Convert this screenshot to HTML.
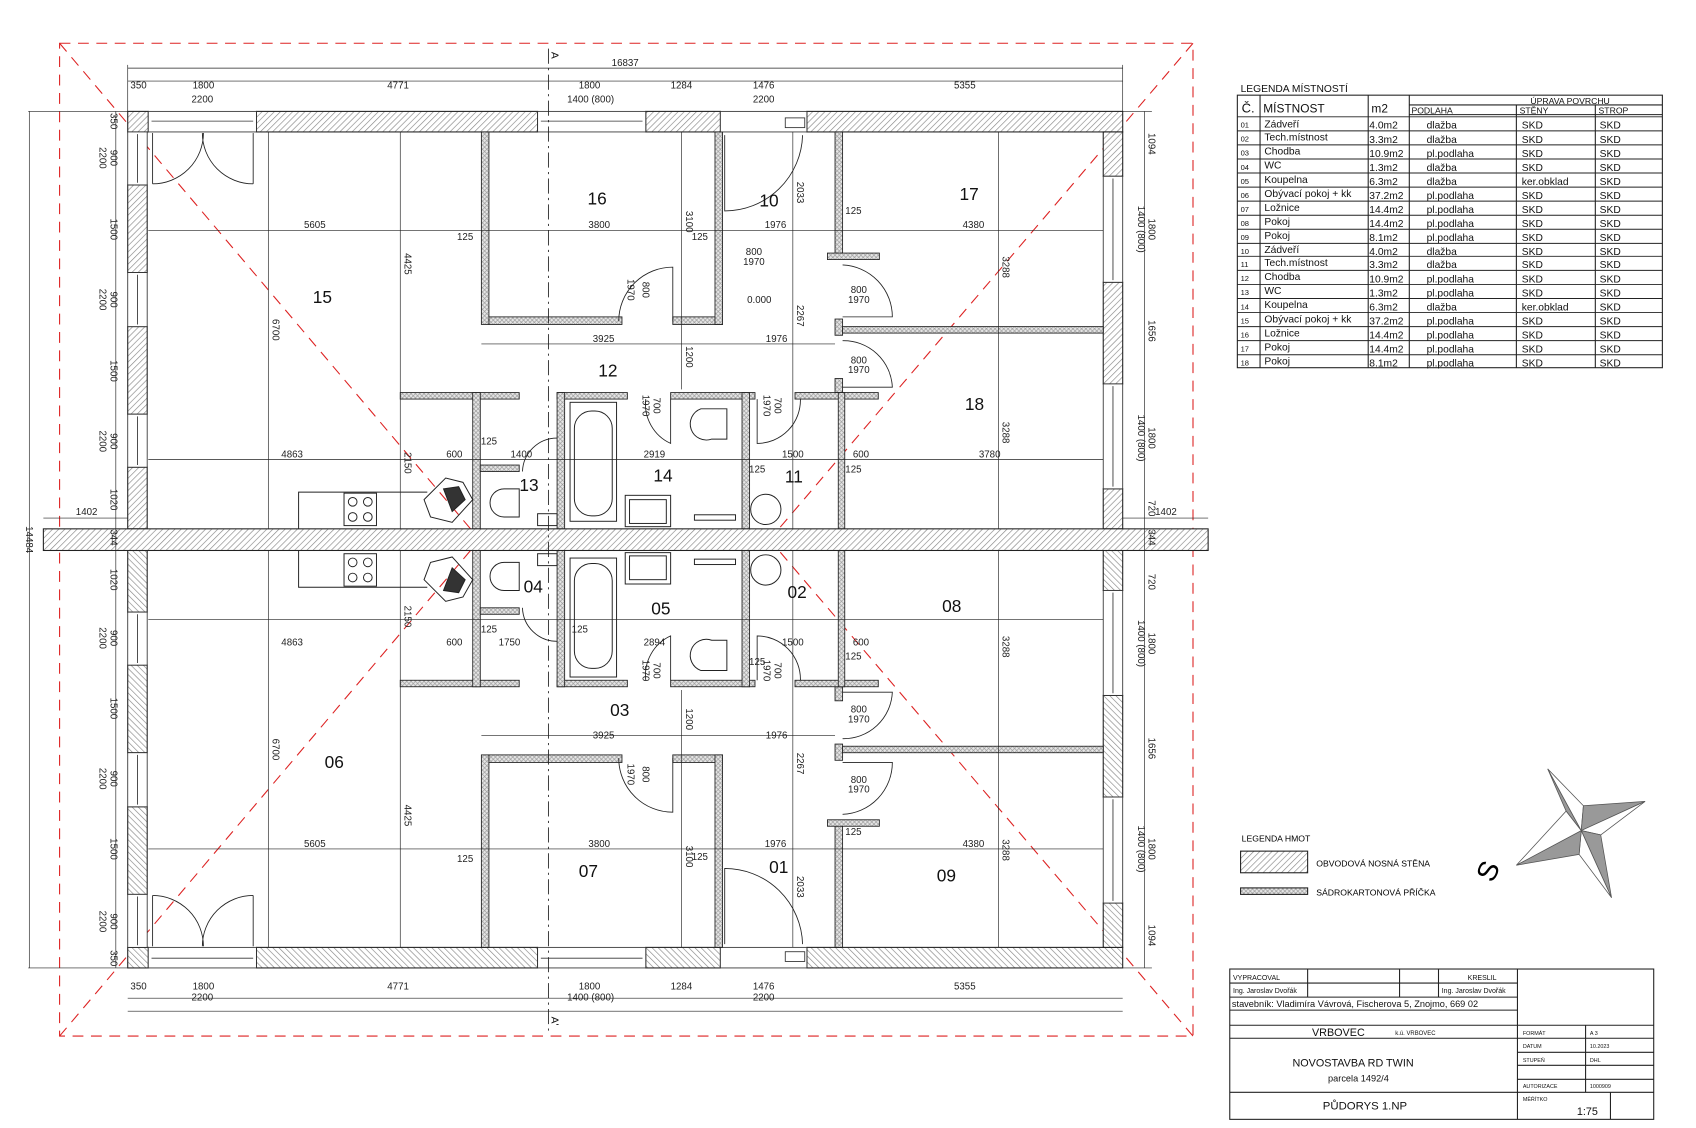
<!DOCTYPE html>
<html><head><meta charset="utf-8"><style>
html,body{margin:0;padding:0;background:#fff;}
svg{display:block;font-family:"Liberation Sans",sans-serif;}
.d{font-size:9px;fill:#222;}
.r{font-size:16px;fill:#111;}
.t{font-size:9.5px;fill:#111;}
</style></head><body>
<svg width="1696" height="1128" viewBox="0 0 1568 1043" xmlns="http://www.w3.org/2000/svg">
<defs>
<pattern id="h" width="4" height="4" patternUnits="userSpaceOnUse" patternTransform="rotate(45)"><rect width="4" height="4" fill="#fff"/><line x1="0" y1="0" x2="0" y2="4" stroke="#888" stroke-width="1.2"/></pattern>
<pattern id="p" width="4" height="4" patternUnits="userSpaceOnUse"><rect width="4" height="4" fill="#e6e6e6"/><path d="M0 0L4 4M4 0L0 4" stroke="#999" stroke-width="0.6"/></pattern>
<g id="half">
 <!-- exterior walls -->
 <g fill="url(#h)" stroke="#222" stroke-width="1">
  <rect x="237" y="103" width="260" height="19"/>
  <rect x="597" y="103" width="69" height="19"/>
  <rect x="746" y="103" width="292" height="19"/>
  <rect x="118" y="103" width="19" height="19"/>
  <rect x="118" y="171" width="18" height="81"/>
  <rect x="118" y="302" width="18" height="81"/>
  <rect x="118" y="432" width="18" height="57"/>
  <rect x="1020" y="122" width="18" height="41"/>
  <rect x="1020" y="261" width="18" height="94"/>
  <rect x="1020" y="452" width="18" height="37"/>
 </g>
 <!-- windows -->
 <g fill="#fff" stroke="#333" stroke-width="0.8">
  <rect x="137" y="103" width="100" height="19"/><line x1="140" y1="112" x2="234" y2="112"/>
  <rect x="497" y="103" width="100" height="19"/><line x1="500" y1="112" x2="594" y2="112"/>
  <rect x="666" y="103" width="80" height="19"/>
  <rect x="726" y="109" width="18" height="9"/>
  <rect x="118" y="122" width="18" height="49"/><line x1="127" y1="124" x2="127" y2="169"/>
  <rect x="118" y="252" width="18" height="50"/><line x1="127" y1="254" x2="127" y2="300"/>
  <rect x="118" y="383" width="18" height="49"/><line x1="127" y1="385" x2="127" y2="430"/>
  <rect x="1020" y="163" width="18" height="98"/><line x1="1029" y1="165" x2="1029" y2="259"/>
  <rect x="1020" y="355" width="18" height="97"/><line x1="1029" y1="357" x2="1029" y2="450"/>
 </g>
 <!-- partitions -->
 <g fill="url(#p)" stroke="#222" stroke-width="0.8">
  <rect x="445" y="122" width="7" height="178"/>
  <rect x="452" y="293" width="123" height="7"/>
  <rect x="622" y="293" width="46" height="7"/>
  <rect x="661" y="122" width="7" height="178"/>
  <rect x="772" y="122" width="7" height="113"/>
  <rect x="765" y="234" width="48" height="6"/>
  <rect x="772" y="295" width="7" height="15"/>
  <rect x="779" y="302" width="241" height="6"/>
  <rect x="772" y="350" width="7" height="13"/>
  <rect x="370" y="363" width="110" height="6"/>
  <rect x="515" y="363" width="65" height="6"/>
  <rect x="620" y="363" width="78" height="6"/>
  <rect x="735" y="363" width="77" height="6"/>
  <rect x="437" y="363" width="7" height="126"/>
  <rect x="515" y="363" width="7" height="126"/>
  <rect x="686" y="363" width="7" height="126"/>
  <rect x="775" y="363" width="6" height="126"/>
  <rect x="444" y="430" width="36" height="6"/>
 </g>
 <!-- doors -->
 <g fill="none" stroke="#222" stroke-width="0.8">
  <path d="M141,170 A47,47 0 0 0 188,123 M234,170 A47,47 0 0 1 187,123"/>
  <line x1="141" y1="123" x2="141" y2="170"/><line x1="234" y1="123" x2="234" y2="170"/>
  <path d="M572,297 A50,50 0 0 1 622,247 L622,297"/>
  <path d="M742,125 A72,72 0 0 1 670,195 L670,125"/>
  <path d="M779,245 A48,48 0 0 1 825,293 L779,293"/>
  <path d="M779,315 A45,45 0 0 1 825,358 L779,358"/>
  <path d="M597,369 A40,40 0 0 0 620,410 L620,369"/>
  <path d="M740,369 A40,40 0 0 1 700,410 L700,369"/>
  <path d="M483,436 A32,32 0 0 1 515,405"/>
 </g>
 <!-- fixtures -->
 <g fill="none" stroke="#222" stroke-width="0.9">
  <rect x="527" y="372" width="43" height="110"/>
  <rect x="531" y="380" width="35" height="97" rx="16"/>
  <rect x="578" y="458" width="42" height="29"/><rect x="582" y="462" width="34" height="22"/>
  <path d="M648,378 h24 v28 h-14 a12,12 0 0 1 -10,-28z"/>
  <path d="M480,452 v26 h-14 a13,13 0 0 1 0,-26z"/>
  <rect x="497" y="475" width="18" height="11"/>
  <circle cx="708" cy="471" r="14"/>
  <rect x="642" y="476" width="38" height="5"/>
  <polyline points="276,489 276,455 395,455"/>
  <rect x="318" y="456" width="30" height="30"/>
  <circle cx="326" cy="464" r="4"/><circle cx="340" cy="464" r="4"/><circle cx="326" cy="478" r="4"/><circle cx="340" cy="478" r="4"/>
  <path d="M392,462 L412,442 L428,446 L437,462 L418,483 L398,478 Z"/>
  <path d="M410,452 L424,450 L430,462 L418,473 Z" fill="#333"/>
 </g>
 <!-- dimension lines -->
 <g stroke="#222" stroke-width="0.6" fill="none">
  <line x1="137" y1="213" x2="1020" y2="213"/>
  <line x1="445" y1="318" x2="772" y2="318"/>
  <line x1="137" y1="425" x2="1020" y2="425"/>
  <line x1="248" y1="122" x2="248" y2="489"/>
  <line x1="370" y1="122" x2="370" y2="489"/>
  <line x1="923" y1="122" x2="923" y2="489"/>
  <line x1="733" y1="122" x2="733" y2="489"/>
  <line x1="630" y1="122" x2="630" y2="360"/>
  <line x1="26" y1="103" x2="118" y2="103"/>
  <line x1="1038" y1="103" x2="1065" y2="103"/>
 </g>
</g>
</defs>

<!-- red hip lines -->
<g stroke="#d22" stroke-width="1" stroke-dasharray="10,7" fill="none">
 <rect x="55" y="40" width="1048" height="918"/>
 <line x1="55" y1="40" x2="435" y2="489"/>
 <line x1="1103" y1="40" x2="720" y2="489"/>
 <line x1="55" y1="958" x2="435" y2="509"/>
 <line x1="1103" y1="958" x2="720" y2="509"/>
</g>

<use href="#half"/>
<use href="#half" transform="matrix(1 0 0 -1 0 998)"/>
<rect x="40" y="489" width="1077" height="20" fill="url(#h)" stroke="#222" stroke-width="1"/>

<!-- section line -->
<line x1="507" y1="45" x2="507" y2="955" stroke="#222" stroke-width="0.8" stroke-dasharray="14,4,2,4"/>
<text x="506" y="52" class="t" transform="rotate(90 510 52)">A</text>
<text x="506" y="944" class="t" transform="rotate(90 510 944)">A'</text>

<!-- outer dims -->
<g stroke="#222" stroke-width="0.6">
 <line x1="118" y1="63" x2="1038" y2="63"/>
 <line x1="118" y1="75" x2="1038" y2="75"/>
 <line x1="118" y1="923" x2="1038" y2="923"/>
 <line x1="118" y1="935" x2="1038" y2="935"/>
 <line x1="27" y1="103" x2="27" y2="895"/>
 <line x1="107" y1="103" x2="107" y2="895"/>
 <line x1="1058" y1="103" x2="1058" y2="895"/>
 <line x1="40" y1="479" x2="118" y2="479"/><line x1="1038" y1="479" x2="1117" y2="479"/>
 <line x1="118" y1="60" x2="118" y2="103"/><line x1="1038" y1="60" x2="1038" y2="103"/>
</g>
<g class="d" text-anchor="middle">
 <text x="578" y="61">16837</text>
 <text x="128" y="82">350</text><text x="188" y="82">1800</text><text x="368" y="82">4771</text><text x="545" y="82">1800</text><text x="630" y="82">1284</text><text x="706" y="82">1476</text><text x="892" y="82">5355</text>
 <text x="187" y="95">2200</text><text x="546" y="95">1400 (800)</text><text x="706" y="95">2200</text>
 <text x="128" y="915">350</text><text x="188" y="915">1800</text><text x="368" y="915">4771</text><text x="545" y="915">1800</text><text x="630" y="915">1284</text><text x="706" y="915">1476</text><text x="892" y="915">5355</text>
 <text x="187" y="925">2200</text><text x="546" y="925">1400 (800)</text><text x="706" y="925">2200</text>
 <text x="80" y="476">1402</text><text x="1078" y="476">1402</text>
</g>
<g class="d" text-anchor="middle">
 <text transform="translate(24,499) rotate(90)">14484</text>
 <text transform="translate(102,112) rotate(90)">350</text>
 <text transform="translate(102,146) rotate(90)">900</text><text transform="translate(92,146) rotate(90)">2200</text>
 <text transform="translate(102,212) rotate(90)">1500</text>
 <text transform="translate(102,277) rotate(90)">900</text><text transform="translate(92,277) rotate(90)">2200</text>
 <text transform="translate(102,343) rotate(90)">1500</text>
 <text transform="translate(102,408) rotate(90)">900</text><text transform="translate(92,408) rotate(90)">2200</text>
 <text transform="translate(102,462) rotate(90)">1020</text>
 <text transform="translate(102,497) rotate(90)">344</text>
 <text transform="translate(102,536) rotate(90)">1020</text>
 <text transform="translate(102,590) rotate(90)">900</text><text transform="translate(92,590) rotate(90)">2200</text>
 <text transform="translate(102,655) rotate(90)">1500</text>
 <text transform="translate(102,720) rotate(90)">900</text><text transform="translate(92,720) rotate(90)">2200</text>
 <text transform="translate(102,785) rotate(90)">1500</text>
 <text transform="translate(102,852) rotate(90)">900</text><text transform="translate(92,852) rotate(90)">2200</text>
 <text transform="translate(102,886) rotate(90)">350</text>
 <text transform="translate(1062,133) rotate(90)">1094</text>
 <text transform="translate(1062,212) rotate(90)">1800</text><text transform="translate(1052,212) rotate(90)">1400 (800)</text>
 <text transform="translate(1062,306) rotate(90)">1656</text>
 <text transform="translate(1062,405) rotate(90)">1800</text><text transform="translate(1052,405) rotate(90)">1400 (800)</text>
 <text transform="translate(1062,470) rotate(90)">720</text>
 <text transform="translate(1062,497) rotate(90)">344</text>
 <text transform="translate(1062,538) rotate(90)">720</text>
 <text transform="translate(1062,595) rotate(90)">1800</text><text transform="translate(1052,595) rotate(90)">1400 (800)</text>
 <text transform="translate(1062,692) rotate(90)">1656</text>
 <text transform="translate(1062,785) rotate(90)">1800</text><text transform="translate(1052,785) rotate(90)">1400 (800)</text>
 <text transform="translate(1062,865) rotate(90)">1094</text>
</g>

<!-- interior dim labels -->
<g class="d" text-anchor="middle">
 <text x="291" y="211">5605</text><text x="554" y="211">3800</text><text x="717" y="211">1976</text><text x="900" y="211">4380</text>
 <text x="558" y="316">3925</text><text x="718" y="316">1976</text>
 <text x="270" y="423">4863</text><text x="420" y="423">600</text><text x="482" y="423">1400</text><text x="605" y="423">2919</text><text x="733" y="423">1500</text><text x="796" y="423">600</text><text x="915" y="423">3780</text>
 <text x="291" y="783">5605</text><text x="554" y="783">3800</text><text x="717" y="783">1976</text><text x="900" y="783">4380</text>
 <text x="558" y="683">3925</text><text x="718" y="683">1976</text>
 <text x="270" y="597">4863</text><text x="420" y="597">600</text><text x="471" y="597">1750</text><text x="605" y="597">2894</text><text x="733" y="597">1500</text><text x="796" y="597">600</text>
 <text x="430" y="222">125</text><text x="647" y="222">125</text><text x="789" y="198">125</text><text x="452" y="411">125</text><text x="700" y="437">125</text><text x="789" y="437">125</text>
 <text x="430" y="797">125</text><text x="647" y="795">125</text><text x="789" y="772">125</text><text x="452" y="585">125</text><text x="700" y="615">125</text><text x="789" y="610">125</text><text x="536" y="585">125</text>
 <text x="697" y="236">800</text><text x="697" y="245">1970</text>
 <text x="794" y="271">800</text><text x="794" y="280">1970</text>
 <text x="794" y="336">800</text><text x="794" y="345">1970</text>
 <text x="794" y="659">800</text><text x="794" y="668">1970</text>
 <text x="794" y="724">800</text><text x="794" y="733">1970</text>
 <text x="702" y="280">0.000</text>
 <text transform="translate(252,305) rotate(90)">6700</text>
 <text transform="translate(374,244) rotate(90)">4425</text>
 <text transform="translate(927,247) rotate(90)">3288</text>
 <text transform="translate(927,400) rotate(90)">3288</text>
 <text transform="translate(737,178) rotate(90)">2033</text>
 <text transform="translate(737,292) rotate(90)">2267</text>
 <text transform="translate(634,205) rotate(90)">3100</text>
 <text transform="translate(634,330) rotate(90)">1200</text>
 <text transform="translate(374,428) rotate(90)">2150</text>
 <text transform="translate(252,693) rotate(90)">6700</text>
 <text transform="translate(374,754) rotate(90)">4425</text>
 <text transform="translate(927,598) rotate(90)">3288</text>
 <text transform="translate(927,786) rotate(90)">3288</text>
 <text transform="translate(737,820) rotate(90)">2033</text>
 <text transform="translate(737,706) rotate(90)">2267</text>
 <text transform="translate(634,792) rotate(90)">3100</text>
 <text transform="translate(634,665) rotate(90)">1200</text>
 <text transform="translate(374,570) rotate(90)">2150</text>
 <text transform="translate(594,268) rotate(90)">800</text><text transform="translate(580,268) rotate(90)">1970</text>
 <text transform="translate(594,716) rotate(90)">800</text><text transform="translate(580,716) rotate(90)">1970</text>
 <text transform="translate(604,375) rotate(90)">700</text><text transform="translate(594,375) rotate(90)">1970</text>
 <text transform="translate(716,375) rotate(90)">700</text><text transform="translate(706,375) rotate(90)">1970</text>
 <text transform="translate(604,620) rotate(90)">700</text><text transform="translate(594,620) rotate(90)">1970</text>
 <text transform="translate(716,620) rotate(90)">700</text><text transform="translate(706,620) rotate(90)">1970</text>
</g>

<!-- room numbers -->
<g class="r" text-anchor="middle">
 <text x="552" y="189">16</text><text x="711" y="191">10</text><text x="896" y="185">17</text>
 <text x="298" y="280">15</text><text x="562" y="348">12</text><text x="901" y="379">18</text>
 <text x="489" y="454">13</text><text x="613" y="445">14</text><text x="734" y="446">11</text>
 <text x="493" y="548">04</text><text x="611" y="568">05</text><text x="737" y="553">02</text><text x="880" y="566">08</text>
 <text x="573" y="662">03</text><text x="309" y="710">06</text>
 <text x="544" y="811">07</text><text x="720" y="807">01</text><text x="875" y="815">09</text>
</g>

<!-- room legend table -->
<text x="1147" y="85" class="t">LEGENDA MÍSTNOSTÍ</text>
<g stroke="#222" stroke-width="1" fill="none">
 <rect x="1144" y="88" width="393" height="252"/>
 <line x1="1303" y1="97" x2="1537" y2="97"/>
 <line x1="1303" y1="106" x2="1537" y2="106"/>
 <line x1="1165" y1="88" x2="1165" y2="340"/><line x1="1265" y1="88" x2="1265" y2="340"/><line x1="1303" y1="88" x2="1303" y2="340"/>
 <line x1="1402" y1="97" x2="1402" y2="340"/><line x1="1475" y1="97" x2="1475" y2="340"/>
</g>
<g stroke="#222" stroke-width="0.9">
 <line x1="1144" y1="108" x2="1537" y2="108"/><line x1="1144" y1="121" x2="1537" y2="121"/><line x1="1144" y1="134" x2="1537" y2="134"/><line x1="1144" y1="147" x2="1537" y2="147"/><line x1="1144" y1="160" x2="1537" y2="160"/><line x1="1144" y1="173" x2="1537" y2="173"/><line x1="1144" y1="186" x2="1537" y2="186"/><line x1="1144" y1="199" x2="1537" y2="199"/><line x1="1144" y1="212" x2="1537" y2="212"/><line x1="1144" y1="225" x2="1537" y2="225"/><line x1="1144" y1="237" x2="1537" y2="237"/><line x1="1144" y1="250" x2="1537" y2="250"/><line x1="1144" y1="263" x2="1537" y2="263"/><line x1="1144" y1="276" x2="1537" y2="276"/><line x1="1144" y1="289" x2="1537" y2="289"/><line x1="1144" y1="302" x2="1537" y2="302"/><line x1="1144" y1="315" x2="1537" y2="315"/><line x1="1144" y1="328" x2="1537" y2="328"/>
</g>
<g style="font-size:10px" fill="#111">
 <text x="1148" y="104" style="font-size:12px">Č.</text><text x="1168" y="104" style="font-size:11px">MÍSTNOST</text><text x="1268" y="104" style="font-size:11px">m2</text>
 <text x="1415" y="96" style="font-size:8px">ÚPRAVA POVRCHU</text>
 <text x="1305" y="105" style="font-size:8px">PODLAHA</text><text x="1405" y="105" style="font-size:8px">STĚNY</text><text x="1478" y="105" style="font-size:8px">STROP</text>
</g>
<g style="font-size:9.5px" fill="#111">
 <g style="font-size:7px"><text x="1147" y="118">01</text><text x="1147" y="131">02</text><text x="1147" y="144">03</text><text x="1147" y="157">04</text><text x="1147" y="170">05</text><text x="1147" y="183">06</text><text x="1147" y="196">07</text><text x="1147" y="209">08</text><text x="1147" y="222">09</text><text x="1147" y="235">10</text><text x="1147" y="247">11</text><text x="1147" y="260">12</text><text x="1147" y="273">13</text><text x="1147" y="286">14</text><text x="1147" y="299">15</text><text x="1147" y="312">16</text><text x="1147" y="325">17</text><text x="1147" y="338">18</text></g>
 <text x="1169" y="118">Zádveří</text><text x="1266" y="119">4.0m2</text><text x="1319" y="119">dlažba</text><text x="1407" y="119">SKD</text><text x="1479" y="119">SKD</text>
 <text x="1169" y="130">Tech.místnost</text><text x="1266" y="132">3.3m2</text><text x="1319" y="132">dlažba</text><text x="1407" y="132">SKD</text><text x="1479" y="132">SKD</text>
 <text x="1169" y="143">Chodba</text><text x="1266" y="145">10.9m2</text><text x="1319" y="145">pl.podlaha</text><text x="1407" y="145">SKD</text><text x="1479" y="145">SKD</text>
 <text x="1169" y="156">WC</text><text x="1266" y="158">1.3m2</text><text x="1319" y="158">dlažba</text><text x="1407" y="158">SKD</text><text x="1479" y="158">SKD</text>
 <text x="1169" y="169">Koupelna</text><text x="1266" y="171">6.3m2</text><text x="1319" y="171">dlažba</text><text x="1407" y="171">ker.obklad</text><text x="1479" y="171">SKD</text>
 <text x="1169" y="182">Obývací pokoj + kk</text><text x="1266" y="184">37.2m2</text><text x="1319" y="184">pl.podlaha</text><text x="1407" y="184">SKD</text><text x="1479" y="184">SKD</text>
 <text x="1169" y="195">Ložnice</text><text x="1266" y="197">14.4m2</text><text x="1319" y="197">pl.podlaha</text><text x="1407" y="197">SKD</text><text x="1479" y="197">SKD</text>
 <text x="1169" y="208">Pokoj</text><text x="1266" y="210">14.4m2</text><text x="1319" y="210">pl.podlaha</text><text x="1407" y="210">SKD</text><text x="1479" y="210">SKD</text>
 <text x="1169" y="221">Pokoj</text><text x="1266" y="223">8.1m2</text><text x="1319" y="223">pl.podlaha</text><text x="1407" y="223">SKD</text><text x="1479" y="223">SKD</text>
 <text x="1169" y="234">Zádveří</text><text x="1266" y="236">4.0m2</text><text x="1319" y="236">dlažba</text><text x="1407" y="236">SKD</text><text x="1479" y="236">SKD</text>
 <text x="1169" y="246">Tech.místnost</text><text x="1266" y="248">3.3m2</text><text x="1319" y="248">dlažba</text><text x="1407" y="248">SKD</text><text x="1479" y="248">SKD</text>
 <text x="1169" y="259">Chodba</text><text x="1266" y="261">10.9m2</text><text x="1319" y="261">pl.podlaha</text><text x="1407" y="261">SKD</text><text x="1479" y="261">SKD</text>
 <text x="1169" y="272">WC</text><text x="1266" y="274">1.3m2</text><text x="1319" y="274">pl.podlaha</text><text x="1407" y="274">SKD</text><text x="1479" y="274">SKD</text>
 <text x="1169" y="285">Koupelna</text><text x="1266" y="287">6.3m2</text><text x="1319" y="287">dlažba</text><text x="1407" y="287">ker.obklad</text><text x="1479" y="287">SKD</text>
 <text x="1169" y="298">Obývací pokoj + kk</text><text x="1266" y="300">37.2m2</text><text x="1319" y="300">pl.podlaha</text><text x="1407" y="300">SKD</text><text x="1479" y="300">SKD</text>
 <text x="1169" y="311">Ložnice</text><text x="1266" y="313">14.4m2</text><text x="1319" y="313">pl.podlaha</text><text x="1407" y="313">SKD</text><text x="1479" y="313">SKD</text>
 <text x="1169" y="324">Pokoj</text><text x="1266" y="326">14.4m2</text><text x="1319" y="326">pl.podlaha</text><text x="1407" y="326">SKD</text><text x="1479" y="326">SKD</text>
 <text x="1169" y="337">Pokoj</text><text x="1266" y="339">8.1m2</text><text x="1319" y="339">pl.podlaha</text><text x="1407" y="339">SKD</text><text x="1479" y="339">SKD</text>
</g>

<!-- legenda hmot -->
<text x="1148" y="778" style="font-size:8px">LEGENDA HMOT</text>
<rect x="1147" y="787" width="62" height="20" fill="url(#h)" stroke="#222"/>
<text x="1217" y="801" style="font-size:8px">OBVODOVÁ NOSNÁ STĚNA</text>
<rect x="1147" y="821" width="62" height="6" fill="url(#p)" stroke="#222"/>
<text x="1217" y="828" style="font-size:8px">SÁDROKARTONOVÁ PŘÍČKA</text>

<!-- compass -->
<g stroke="#555" stroke-width="0.7">
 <polygon points="1431,711 1462,768 1448,750" fill="#999"/>
 <polygon points="1431,711 1462,768 1464,745" fill="#fff"/>
 <polygon points="1521,741 1462,768 1464,745" fill="#999"/>
 <polygon points="1521,741 1462,768 1480,772" fill="#fff"/>
 <polygon points="1490,830 1462,768 1480,772" fill="#999"/>
 <polygon points="1490,830 1462,768 1460,790" fill="#fff"/>
 <polygon points="1402,800 1462,768 1460,790" fill="#999"/>
 <polygon points="1402,800 1462,768 1448,750" fill="#fff"/>
</g>
<text x="1368" y="812" style="font-size:26px" transform="rotate(-65 1378 805)">S</text>

<!-- title block -->
<g stroke="#222" stroke-width="1" fill="none">
 <rect x="1137" y="896" width="392" height="139"/>
 <line x1="1137" y1="909" x2="1403" y2="909"/>
 <line x1="1137" y1="922" x2="1403" y2="922"/>
 <line x1="1137" y1="934" x2="1403" y2="934"/>
 <line x1="1137" y1="948" x2="1529" y2="948"/>
 <line x1="1137" y1="960" x2="1403" y2="960"/>
 <line x1="1137" y1="1010" x2="1529" y2="1010"/>
 <line x1="1403" y1="896" x2="1403" y2="1035"/>
 <line x1="1209" y1="896" x2="1209" y2="922"/><line x1="1294" y1="896" x2="1294" y2="922"/><line x1="1330" y1="896" x2="1330" y2="922"/>
 <line x1="1466" y1="948" x2="1466" y2="1010"/><line x1="1489" y1="1010" x2="1489" y2="1035"/>
 <line x1="1403" y1="960" x2="1529" y2="960"/><line x1="1403" y1="973" x2="1529" y2="973"/><line x1="1403" y1="985" x2="1529" y2="985"/><line x1="1403" y1="998" x2="1529" y2="998"/>
</g>
<g fill="#111">
 <text x="1140" y="906" style="font-size:6.5px">VYPRACOVAL</text>
 <text x="1357" y="906" style="font-size:6.5px">KRESLIL</text>
 <text x="1140" y="918" style="font-size:6.5px">Ing. Jaroslav Dvořák</text>
 <text x="1333" y="918" style="font-size:6.5px">Ing. Jaroslav Dvořák</text>
 <text x="1139" y="931" style="font-size:8.5px">stavebník: Vladimíra Vávrová, Fischerova 5, Znojmo, 669 02</text>
 <text x="1213" y="958" style="font-size:10px">VRBOVEC</text>
 <text x="1290" y="957" style="font-size:5.5px">k.ú. VRBOVEC</text>
 <text x="1251" y="986" style="font-size:10px" text-anchor="middle">NOVOSTAVBA RD  TWIN</text>
 <text x="1256" y="1000" style="font-size:8.5px" text-anchor="middle">parcela  1492/4</text>
 <text x="1262" y="1026" style="font-size:10.5px" text-anchor="middle">PŮDORYS 1.NP</text>
 <g style="font-size:5px"><text x="1408" y="957">FORMÁT</text><text x="1470" y="957">A 3</text><text x="1408" y="969">DATUM</text><text x="1470" y="969">10.2023</text><text x="1408" y="982">STUPEŇ</text><text x="1470" y="982">DHL</text><text x="1408" y="1006">AUTORIZACE</text><text x="1470" y="1006">1000909</text><text x="1408" y="1018">MĚŘÍTKO</text></g>
 <text x="1458" y="1031" style="font-size:10px">1:75</text>
</g>
</svg>
</body></html>
